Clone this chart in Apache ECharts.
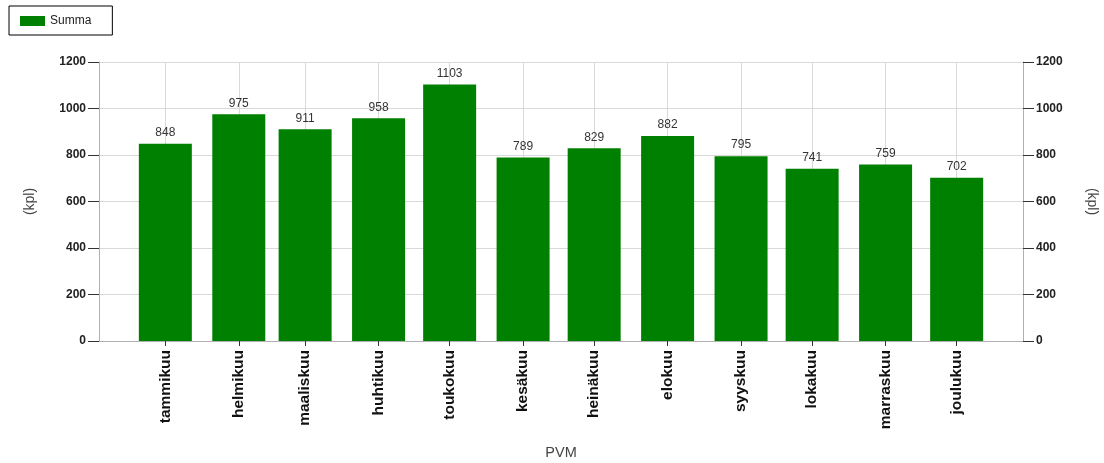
<!DOCTYPE html>
<html>
<head>
<meta charset="utf-8">
<script src="https://cdn.jsdelivr.net/npm/echarts@6/dist/echarts.min.js"></script>
<style>
  html, body { margin: 0; padding: 0; background: #fff; }
  #chart { width: 1104px; height: 463px; }
</style>
</head>
<body>
<div id="chart"></div>
<script>
// Monthly totals (kpl); bars sit at each month's first day, counted in days from 1 January
const monthStartDay = [0, 31, 59, 90, 120, 151, 181, 212, 243, 273, 304, 334];
const monthNames = ['tammikuu', 'helmikuu', 'maaliskuu', 'huhtikuu', 'toukokuu', 'kesäkuu',
                    'heinäkuu', 'elokuu', 'syyskuu', 'lokakuu', 'marraskuu', 'joulukuu'];
const summa = [848, 975, 911, 958, 1103, 789, 829, 882, 795, 741, 759, 702];
const yTicks = [0, 200, 400, 600, 800, 1000, 1200];

const FONT = '"Liberation Sans", Arial, sans-serif';

const chart = echarts.init(document.getElementById('chart'), null, { renderer: 'canvas' });

const valueAxis = (position, nameRotate) => ({
  type: 'value',
  position: position,
  min: yTicks[0],
  max: yTicks[yTicks.length - 1],
  interval: 200,
  name: '(kpl)',
  nameLocation: 'middle',
  nameRotate: nameRotate,
  nameGap: 62,
  nameTextStyle: { fontFamily: FONT, fontSize: 14, color: '#444' },
  axisLine: { show: true, onZero: false, lineStyle: { color: '#b0b0b0', width: 1 } },
  axisTick: { show: true, length: 11, lineStyle: { color: '#333' } },
  axisLabel: {
    fontFamily: FONT, fontSize: 12, fontWeight: 'bold', color: '#222', margin: 13,
    formatter: v => String(v)
  },
  splitLine: { show: position === 'left', lineStyle: { color: '#d9d9d9', width: 1 } }
});

chart.setOption({
  animation: false,
  textStyle: { fontFamily: FONT },
  legend: {
    left: 9,
    top: 6,
    padding: [9, 21, 8, 11],
    borderColor: '#000',
    borderWidth: 1,
    itemWidth: 25,
    itemHeight: 10,
    itemGap: 5,
    icon: 'rect',
    textStyle: { fontFamily: FONT, fontSize: 12, color: '#222' },
    data: ['Summa']
  },
  grid: { left: 99, right: 81, top: 62, bottom: 122, containLabel: false, outerBoundsMode: 'none' },
  xAxis: {
    type: 'value',
    min: monthStartDay[0] - 28,
    max: monthStartDay[11] + 28,
    name: 'PVM',
    nameLocation: 'middle',
    nameGap: 104,
    nameTextStyle: { fontFamily: FONT, fontSize: 14.5, color: '#444' },
    axisLine: { show: true, onZero: false, lineStyle: { color: '#b0b0b0', width: 1 } },
    axisTick: { show: true, length: 5, lineStyle: { color: '#333' }, customValues: monthStartDay },
    axisLabel: {
      customValues: monthStartDay,
      rotate: 90,
      margin: 9,
      fontFamily: FONT,
      fontSize: 15.5,
      fontWeight: 'bold',
      color: '#111',
      showMinLabel: true,
      showMaxLabel: true,
      formatter: v => monthNames[monthStartDay.indexOf(v)]
    },
    splitLine: { show: true, lineStyle: { color: '#d9d9d9', width: 1 } }
  },
  yAxis: [valueAxis('left', 90), valueAxis('right', -90)],
  series: [{
    name: 'Summa',
    type: 'bar',
    barWidth: 53,
    itemStyle: { color: '#008000' },
    label: {
      show: true,
      position: 'top',
      distance: 5,
      fontFamily: FONT,
      fontSize: 12,
      color: '#333'
    },
    data: monthStartDay.map((d, i) => [d, summa[i]])
  }]
});
</script>
</body>
</html>
